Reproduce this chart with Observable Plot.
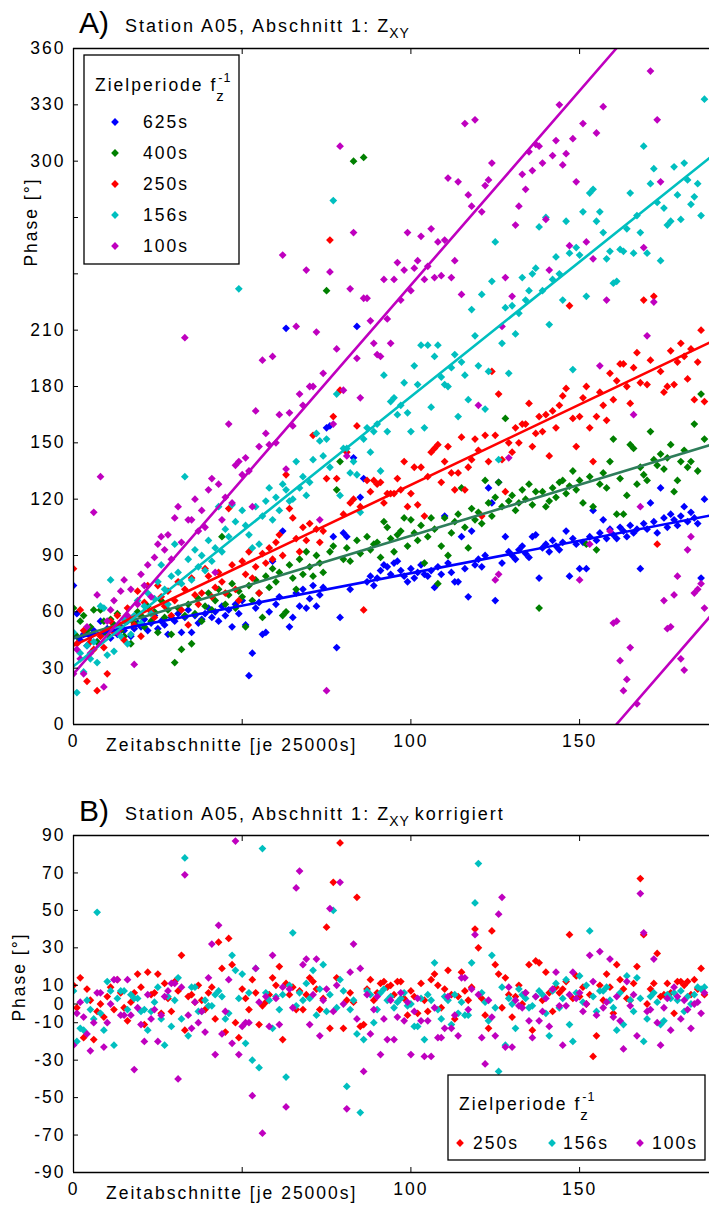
<!DOCTYPE html>
<html><head><meta charset="utf-8">
<script src="https://cdn.jsdelivr.net/npm/d3@7"></script>
<script src="https://cdn.jsdelivr.net/npm/@observablehq/plot@0.6"></script>
<style>
body{margin:0;background:#fff;}
#wrap{position:relative;width:709px;height:1209px;overflow:hidden;background:#fff;}
#wrap svg{position:absolute;left:0;}
</style></head>
<body><div id="wrap"></div>
<script>
// ---------- data ----------
const seriesNames = ["625s","400s","250s","156s","100s"];
const pointColors = ["#0000ff","#008000","#ff0000","#00bfbf","#bf00bf"];
const lineColors  = ["#0000ff","#2e7d5a","#ff0000","#00bfbf","#bf00bf"];
// fitted linear trends (phase = intercept + slope * segment)
const fitIntercept = [46, 46, 42, 31, 27];
const fitSlope     = [0.346, 0.545, 0.856, 1.436, 2.07];

// Panel A: phase [deg] per time segment 0..187
const phase625 = [
74,59,45,48,42,47,50,44,55,49,
51,46,53,48,52,50,55,47,51,54,
52,56,50,54,58,51,55,53,48,57,
55,59,49,57,61,49,58,54,56,59,
62,57,60,55,63,58,61,52,64,59,
66,53,26,38,62,65,48,49,60,87,
64,68,103,211,52,57,70,63,72,62,
67,74,63,69,73,158,159,100,41,57,
102,100,72,142,212,121,131,76,79,74,
78,82,85,84,80,86,87,82,79,76,
83,78,81,85,80,79,82,73,84,80,
111,86,81,76,76,100,83,68,103,85,
88,84,90,126,118,66,129,86,100,92,
90,88,93,95,91,89,100,101,78,94,
96,92,98,95,93,97,103,79,99,96,
83,97,83,100,114,98,102,109,99,104,
101,99,105,103,100,106,102,104,83,107,
104,118,108,102,126,110,105,112,109,106,
111,116,108,113,110,107,78,120];

const phase400 = [
62,47,55,58,50,52,61,44,61,55,
48,56,53,59,50,47,57,43,54,60,
58,52,63,55,60,49,66,57,61,48,
33,62,40,58,64,43,59,67,55,63,
70,61,66,72,100,64,69,75,62,71,
68,52,74,66,77,70,57,79,73,83,
76,81,58,60,85,78,72,88,80,92,
84,79,90,86,81,231,92,95,125,140,
88,94,87,300,98,91,302,100,93,96,
97,89,108,105,99,92,101,103,110,95,
109,102,98,106,86,100,110,104,75,95,
110,90,102,108,112,126,105,94,115,109,
113,107,130,118,111,121,129,116,163,119,
122,114,118,125,120,128,117,124,62,124,
116,119,126,121,129,130,123,127,135,125,
130,118,96,132,116,93,128,134,126,140,
152,112,131,112,122,149,147,128,137,133,
130,156,141,138,144,136,142,149,124,130,
140,146,137,140,160,135,176,152];

const phase250 = [
83,43,61,50,23,44,40,18,47,41,
27,55,49,58,51,45,62,56,53,71,
47,65,74,60,57,74,68,63,71,58,
66,76,61,72,53,78,69,64,70,83,
79,68,73,81,76,70,115,85,72,66,
87,80,92,78,84,70,91,86,94,88,
97,101,90,133,115,110,99,92,105,98,
107,154,104,97,103,131,258,164,131,178,
112,145,118,120,159,116,61,130,124,130,
128,129,118,123,123,123,131,125,140,116,
123,137,117,137,111,132,145,147,149,129,
140,148,134,125,134,153,125,137,141,152,
146,111,154,140,188,154,176,141,124,150,
145,158,150,160,160,171,148,155,164,156,
165,143,167,158,170,175,179,223,163,148,
164,174,180,158,140,164,177,170,162,187,
173,183,192,192,180,171,190,198,182,226,
181,194,228,96,188,177,180,199,181,193,
203,196,184,200,173,193,210,172];

const phase156 = [
49,17,38,28,42,35,44,33,63,62,
37,77,39,52,47,56,43,48,58,66,
54,63,70,59,67,76,85,72,64,79,
96,81,75,132,88,77,93,84,90,82,
98,87,94,116,92,104,100,117,108,232,
114,106,101,94,116,96,111,119,126,109,
121,114,128,125,119,120,140,126,132,122,
129,141,155,151,143,152,137,279,176,122,
147,147,134,140,133,113,152,158,145,156,
160,135,186,156,172,174,165,170,182,166,
156,191,181,202,158,202,169,196,202,185,
181,180,190,197,164,193,186,173,221,207,
191,229,168,188,236,257,141,203,222,187,
223,208,219,238,226,231,240,243,265,231,
270,213,237,249,240,226,268,251,189,254,
250,273,228,283,285,268,273,262,248,252,
235,236,253,252,264,283,251,271,262,308,
251,288,296,278,247,275,266,268,297,282,
269,299,290,277,281,288,271,333];

const phase100 = [
27,40,35,27,52,38,113,69,132,20,
55,61,66,49,71,77,58,72,32,64,
80,74,85,68,89,96,100,93,101,88,
110,116,97,206,109,109,120,103,114,105,
125,131,81,128,109,121,160,118,138,140,
133,142,135,116,167,148,194,155,149,196,
150,165,250,136,166,159,212,176,170,242,
180,180,209,109,187,18,241,160,200,308,
178,143,232,262,195,174,227,227,215,203,
197,196,237,216,203,237,246,226,242,262,
231,243,247,260,237,244,264,238,257,239,
258,291,238,247,289,229,320,282,276,322,
170,273,287,290,299,77,80,212,238,142,
228,266,276,293,285,305,295,309,308,299,
269,242,303,311,330,298,304,255,312,289,
77,320,257,96,248,315,191,329,226,103,
54,55,34,18,24,41,165,11,116,254,
207,348,225,322,289,66,51,52,69,79,
35,29,93,100,70,72,75,62];

// Panel B: corrected phase [deg]
const corr250 = [
10,-2,14,-18,8,2,-19,-4,0,-7,
4,9,-3,13,6,-2,-9,1,6,16,
9,-11,17,5,6,16,-5,11,3,-4,
12,7,26,-14,4,5,1,10,2,-3,
6,9,-8,33,19,-15,35,21,-10,-18,
8,3,-3,13,6,-11,-1,1,5,14,
10,20,-19,11,5,9,-3,7,-3,5,
14,12,8,-3,3,41,-13,65,14,86,
-13,2,6,1,57,-12,-11,8,13,2,
6,11,12,9,10,5,12,12,3,-6,
7,4,-5,11,2,-4,13,16,10,-2,
8,18,5,-8,4,17,7,2,9,40,
30,3,-6,-13,39,21,16,-2,14,5,
-7,4,10,0,6,21,-14,23,22,2,
17,6,-4,9,6,8,12,37,3,15,
4,9,0,5,-28,-17,10,2,16,9,
-5,21,13,8,3,2,11,20,67,37,
0,8,11,27,4,5,11,6,-5,12,
12,10,12,5,13,8,19,5];

const corr156 = [
7,-20,-13,-14,2,-3,-8,49,-5,-14,
12,7,-22,3,7,7,-3,5,3,3,
-4,-3,-14,-4,1,9,-8,-22,4,-12,
2,14,-8,78,-17,9,9,-4,-4,2,
-1,-1,5,7,4,-8,-5,26,18,3,
16,-21,6,-30,19,-34,83,6,2,-13,
4,-3,5,-39,10,38,-1,6,2,11,
3,18,-6,8,21,-4,5,50,-2,13,
7,-44,-3,2,-16,-58,-19,7,5,-10,
-3,6,8,2,4,-2,1,3,6,-1,
0,-12,-12,3,-19,5,2,22,-3,-8,
4,2,-11,5,-5,1,-6,-6,22,54,
75,6,1,-9,26,-2,-36,9,-22,3,
0,-13,8,5,3,-2,-1,4,7,5,
-5,-17,7,11,-2,3,13,-11,-20,6,
15,1,10,39,4,-4,7,7,9,2,
-2,-14,6,-11,15,2,-4,14,3,-20,
-8,4,6,1,-11,-9,5,3,6,2,
7,-4,4,0,5,9,8,9];

const corr100 = [
-22,-5,1,-7,-16,-25,-10,6,6,-23,
-10,0,13,13,-6,-6,13,-6,-35,-2,
-11,-20,5,-8,-3,-20,-6,4,7,11,
11,-40,9,69,-6,-13,1,-10,-4,-15,
14,32,-27,42,-16,-4,13,-21,87,-27,
-12,-10,-10,-49,19,1,-69,4,-12,26,
3,-11,9,-55,8,-2,62,71,21,24,
-11,5,24,-17,2,8,51,-4,10,65,
0,-56,17,32,-8,19,-36,5,-16,-3,
4,-27,-8,-19,2,-19,-7,6,-9,1,
-27,-4,3,-9,-28,-9,-28,-2,-18,-18,
-13,4,-13,-6,-17,14,14,-3,8,37,
5,-18,-32,2,-7,-17,48,57,-23,9,
-23,2,-1,-2,6,-9,-18,4,-9,-4,
3,-12,8,17,-1,-22,-1,5,17,3,
6,-4,0,26,12,-6,28,-2,1,24,
-7,4,-9,-24,12,-1,5,-17,59,38,
-4,-3,24,-10,-22,-2,3,-14,9,4,
-8,2,-3,-13,0,1,-5,6];

const xTicks = [0, 50, 100, 150];
const xTickLabels = [0, 100, 150];
const yTicksA = [0,30,60,90,120,150,180,210,240,270,300,330,360];
const yTickLabelsA = [0,30,60,90,120,150,180,210,300,330,360];
const yTicksB = [-90,-70,-50,-30,-10,0,10,30,50,70,90];
const xMax = 188.5;

// ---------- build tables ----------
const seriesA = [phase625, phase400, phase250, phase156, phase100];
const dataA = [];
seriesA.forEach((arr, s) => arr.forEach((v, i) => dataA.push({x: i, y: v, series: seriesNames[s]})));
const namesB = ["250s","156s","100s"];
const seriesB = [corr250, corr156, corr100];
const dataB = [];
seriesB.forEach((arr, s) => arr.forEach((v, i) => dataB.push({x: i, y: v, series: namesB[s]})));

function fitSegments(a, b) {
  const yEnd = a + b * xMax;
  if (yEnd <= 360) return [{x: 0, y: a, seg: 0}, {x: xMax, y: yEnd, seg: 0}];
  const xw = (360 - a) / b;
  return [{x: 0, y: a, seg: 0}, {x: xw, y: 360, seg: 0}, {x: xw, y: 0, seg: 1}, {x: xMax, y: yEnd - 360, seg: 1}];
}
const fitMarks = fitIntercept.map((a, i) =>
  Plot.line(fitSegments(a, fitSlope[i]), {x: "x", y: "y", z: "seg", stroke: lineColors[i], strokeWidth: 2.6, clip: true}));

const svgStyle = "font-family:'Liberation Sans',Arial,sans-serif;font-size:17.5px;letter-spacing:2px;color:#000;background:transparent;overflow:visible;";
const fmt = (list) => (d) => list.includes(d) ? String(d) : "";
const R = 3.5;

const plotA = Plot.plot({
  width: 709, height: 760, marginTop: 48, marginBottom: 36, marginLeft: 73, marginRight: 0,
  style: svgStyle,
  x: {domain: [0, xMax]},
  y: {domain: [0, 360]},
  color: {domain: seriesNames, range: pointColors},
  marks: [
    Plot.dot(dataA, {x: "x", y: "y", fill: "series", symbol: "diamond2", r: R, clip: true}),
    ...fitMarks,
    Plot.ruleY([0, 360], {strokeWidth: 1.3}),
    Plot.ruleX([0], {strokeWidth: 1.3}),
    Plot.axisX({ticks: xTicks, tickSize: -5, tickPadding: 15, tickFormat: fmt(xTickLabels), label: null}),
    Plot.axisX({anchor: "top", ticks: xTicks, tickSize: -5, tickFormat: () => "", label: null}),
    Plot.axisY({ticks: yTicksA, tickSize: -5, tickPadding: 13, tickFormat: fmt(yTickLabelsA), label: null})
  ]
});
plotA.style.top = "0px";

const plotB = Plot.plot({
  width: 709, height: 449, marginTop: 75, marginBottom: 37, marginLeft: 73, marginRight: 0,
  style: svgStyle,
  x: {domain: [0, xMax]},
  y: {domain: [-90, 90]},
  color: {domain: namesB, range: pointColors.slice(2)},
  marks: [
    Plot.dot(dataB, {x: "x", y: "y", fill: "series", symbol: "diamond2", r: R, clip: true}),
    Plot.ruleY([-90, 90], {strokeWidth: 1.3}),
    Plot.ruleX([0], {strokeWidth: 1.3}),
    Plot.axisX({ticks: xTicks, tickSize: -5, tickPadding: 15, tickFormat: fmt(xTickLabels), label: null}),
    Plot.axisX({anchor: "top", ticks: xTicks, tickSize: -5, tickFormat: () => "", label: null}),
    Plot.axisY({ticks: yTicksB, tickSize: -5, tickPadding: 13, tickFormat: (d) => String(d), label: null})
  ]
});
plotB.style.top = "760px";

const wrap = document.getElementById("wrap");
wrap.appendChild(plotA);
wrap.appendChild(plotB);

// ---------- overlay: titles, axis labels, legends ----------
const NS = "http://www.w3.org/2000/svg";
const ov = document.createElementNS(NS, "svg");
ov.setAttribute("width", 709); ov.setAttribute("height", 1209);
ov.style.top = "0px";
ov.style.fontFamily = "'Liberation Sans',Arial,sans-serif";
wrap.appendChild(ov);
function txt(x, y, s, size, opts = {}) {
  const t = document.createElementNS(NS, "text");
  t.setAttribute("x", x); t.setAttribute("y", y);
  t.setAttribute("font-size", size);
  t.setAttribute("letter-spacing", opts.ls ?? 2);
  if (opts.anchor) t.setAttribute("text-anchor", opts.anchor);
  if (opts.rotate) t.setAttribute("transform", `rotate(-90 ${x} ${y})`);
  t.textContent = s;
  ov.appendChild(t);
  return t;
}
function titleWithSub(x, y, before, sub, after) {
  const t = txt(x, y, before, 18);
  const w = t.getComputedTextLength();
  const s = txt(x + w - 1, y + 6, sub, 14, {ls: 1});
  if (after) {
    const w2 = s.getComputedTextLength();
    txt(x + w + w2 + 4, y, after, 18);
  }
}
function diamond(cx, cy, color) {
  const h = 3.9;
  const p = document.createElementNS(NS, "path");
  p.setAttribute("d", `M${cx},${cy - h}L${cx + h},${cy}L${cx},${cy + h}L${cx - h},${cy}Z`);
  p.setAttribute("fill", color);
  ov.appendChild(p);
}
function legendTitle(x, y) {
  const t = txt(x, y, "Zielperiode f", 17.5);
  const w = t.getComputedTextLength();
  txt(x + w + 1, y - 9, "-1", 12.5, {ls: 1});
  txt(x + w - 1, y + 10, "z", 15, {ls: 0});
}
function rect(x, y, w, h) {
  const r = document.createElementNS(NS, "rect");
  r.setAttribute("x", x); r.setAttribute("y", y); r.setAttribute("width", w); r.setAttribute("height", h);
  r.setAttribute("fill", "#fff"); r.setAttribute("stroke", "#000"); r.setAttribute("stroke-width", 1.3);
  ov.appendChild(r);
}

// Panel A texts
txt(79, 33, "A)", 30, {ls: 0});
titleWithSub(125, 32, "Station A05, Abschnitt 1: Z", "XY", null);
txt(106, 751, "Zeitabschnitte [je 25000s]", 17.5);
txt(37, 222, "Phase [°]", 17.5, {anchor: "middle", rotate: true});
// Legend A
rect(84, 55, 155, 209);
legendTitle(95, 91);
const rowsA = [122, 153, 184, 215, 246];
seriesNames.forEach((n, i) => { diamond(115, rowsA[i], pointColors[i]); txt(143, rowsA[i] + 6, n, 17.5); });

// Panel B texts
txt(79, 821, "B)", 30, {ls: 0});
titleWithSub(125, 820, "Station A05, Abschnitt 1: Z", "XY", "korrigiert");
txt(106, 1199, "Zeitabschnitte [je 25000s]", 17.5);
txt(25, 977, "Phase [°]", 17.5, {anchor: "middle", rotate: true});
// Legend B
rect(448, 1075, 257, 85);
legendTitle(459, 1110);
const legB = [[460, 473], [552, 563], [640, 652]];
namesB.forEach((n, i) => { diamond(legB[i][0], 1143, pointColors[i + 2]); txt(legB[i][1], 1149, n, 17.5); });
</script>
</body></html>
